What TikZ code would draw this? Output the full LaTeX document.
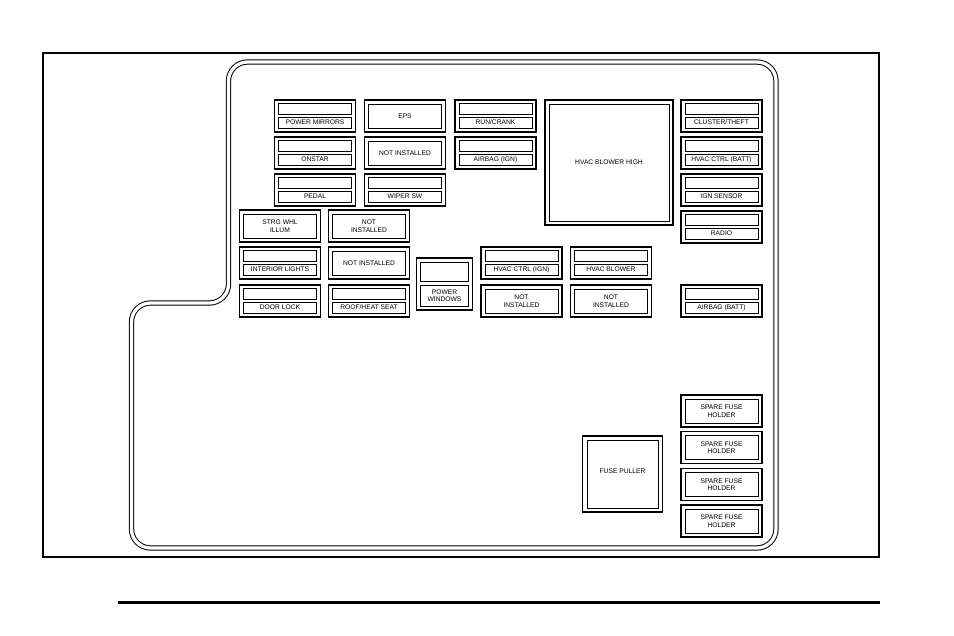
\documentclass[tikz,border=0pt]{standalone}
\usepackage{fontspec}
\setmainfont{Liberation Sans}

\tikzset{
  fusecase/.style={draw, line width=1.2pt, minimum width=81pt, minimum height=32pt, inner sep=0pt},
  fuseslot/.style={draw, line width=0.9pt, minimum width=73pt, minimum height=11pt, inner sep=0pt},
  fusepanel/.style={draw, line width=0.9pt, minimum width=73pt, minimum height=24pt, inner sep=0pt, align=center},
  fusetext/.style={font=\fontsize{6.7}{7.6}\selectfont, align=center}
}

\begin{document}
\begin{tikzpicture}[x=1pt, y=-1pt]

        \useasboundingbox (0,0) rectangle (954,636);

        % frame and rule
        \draw[line width=1.4pt] (43,53) rectangle (879,557);
        \draw[line width=3pt] (118,602.5) -- (880,602.5);

        % housing
        \draw[line width=1pt, double, double distance=3.3pt, rounded corners=19pt]
          (228.5,200) -- (228.5,62) -- (776,62) -- (776,548) -- (131.5,548) -- (131.5,303) -- (228.5,303) -- cycle;

        % first column
        \node[fusecase] (mirrors) at (315,116) {};
        \node[fuseslot] (mirrorstop) at (315,109) {};
        \node[fuseslot, fusetext] (mirrorslabel) at (315,122.5) {POWER MIRRORS};

        \node[fusecase] (onstar) at (315,153) {};
        \node[fuseslot] (onstartop) at (315,146) {};
        \node[fuseslot, fusetext] (onstarlabel) at (315,159.5) {ONSTAR};

        \node[fusecase] (pedal) at (315,190) {};
        \node[fuseslot] (pedaltop) at (315,183) {};
        \node[fuseslot, fusetext] (pedallabel) at (315,196.5) {PEDAL};

        % second column
        \node[fusecase] (eps) at (405,116) {};
        \node[fusepanel, fusetext] (epslabel) at (405,116) {EPS};

        \node[fusecase] (blanka) at (405,153) {};
        \node[fusepanel, fusetext] (blankalabel) at (405,153) {NOT INSTALLED};

        \node[fusecase] (wiper) at (405,190) {};
        \node[fuseslot] (wipertop) at (405,183) {};
        \node[fuseslot, fusetext] (wiperlabel) at (405,196.5) {WIPER SW};

        % third column
        \node[fusecase] (run) at (495.5,116) {};
        \node[fuseslot] (runtop) at (495.5,109) {};
        \node[fuseslot, fusetext] (runlabel) at (495.5,122.5) {RUN/CRANK};

        \node[fusecase] (airbagign) at (495.5,153) {};
        \node[fuseslot] (airbagigntop) at (495.5,146) {};
        \node[fuseslot, fusetext] (airbagignlabel) at (495.5,159.5) {AIRBAG (IGN)};

        % blower relay
        \node[fusecase, minimum width=128pt, minimum height=125pt] (blowerhigh) at (609,162.5) {};
        \node[fusepanel, fusetext, minimum width=120pt, minimum height=117pt] (blowerhighlabel) at (609,162.5) {HVAC BLOWER HIGH};

        % right column
        \node[fusecase] (cluster) at (721.5,116) {};
        \node[fuseslot] (clustertop) at (721.5,109) {};
        \node[fuseslot, fusetext] (clusterlabel) at (721.5,122.5) {CLUSTER/THEFT};

        \node[fusecase] (hvacbatt) at (721.5,153) {};
        \node[fuseslot] (hvacbatttop) at (721.5,146) {};
        \node[fuseslot, fusetext] (hvacbattlabel) at (721.5,159.5) {HVAC CTRL (BATT)};

        \node[fusecase] (ign) at (721.5,190) {};
        \node[fuseslot] (igntop) at (721.5,183) {};
        \node[fuseslot, fusetext] (ignlabel) at (721.5,196.5) {IGN SENSOR};

        \node[fusecase] (radio) at (721.5,227) {};
        \node[fuseslot] (radiotop) at (721.5,220) {};
        \node[fuseslot, fusetext] (radiolabel) at (721.5,233.5) {RADIO};

        \node[fusecase] (airbagbatt) at (721.5,301) {};
        \node[fuseslot] (airbagbatttop) at (721.5,294) {};
        \node[fuseslot, fusetext] (airbagbattlabel) at (721.5,307.5) {AIRBAG (BATT)};

        % lower left block
        \node[fusecase] (strg) at (280,226) {};
        \node[fusepanel, fusetext] (strglabel) at (280,226) {STRG WHL\\ILLUM};

        \node[fusecase] (interior) at (280,263) {};
        \node[fuseslot] (interiortop) at (280,256) {};
        \node[fuseslot, fusetext] (interiorlabel) at (280,269.5) {INTERIOR LIGHTS};

        \node[fusecase] (door) at (280,301) {};
        \node[fuseslot] (doortop) at (280,294) {};
        \node[fuseslot, fusetext] (doorlabel) at (280,307.5) {DOOR LOCK};

        \node[fusecase] (blankb) at (369,226) {};
        \node[fusepanel, fusetext] (blankblabel) at (369,226) {NOT\\INSTALLED};

        \node[fusecase] (blankc) at (369,263) {};
        \node[fusepanel, fusetext] (blankclabel) at (369,263) {NOT INSTALLED};

        \node[fusecase] (roof) at (369,301) {};
        \node[fuseslot] (rooftop) at (369,294) {};
        \node[fuseslot, fusetext] (rooflabel) at (369,307.5) {ROOF/HEAT SEAT};

        % power windows
        \node[fusecase, minimum width=56pt, minimum height=52pt] (windows) at (444.5,284) {};
        \node[fuseslot, minimum width=48pt, minimum height=19pt] (windowstop) at (444.5,272) {};
        \node[fuseslot, fusetext, minimum width=48pt, minimum height=21pt] (windowslabel) at (444.5,295.5) {POWER\\WINDOWS};

        % middle block
        \node[fusecase] (hvacign) at (521.5,263) {};
        \node[fuseslot] (hvacigntop) at (521.5,256) {};
        \node[fuseslot, fusetext] (hvacignlabel) at (521.5,269.5) {HVAC CTRL (IGN)};

        \node[fusecase] (blankd) at (521.5,301) {};
        \node[fusepanel, fusetext] (blankdlabel) at (521.5,301) {NOT\\INSTALLED};

        \node[fusecase] (blower) at (611,263) {};
        \node[fuseslot] (blowertop) at (611,256) {};
        \node[fuseslot, fusetext] (blowerlabel) at (611,269.5) {HVAC BLOWER};

        \node[fusecase] (blanke) at (611,301) {};
        \node[fusepanel, fusetext] (blankelabel) at (611,301) {NOT\\INSTALLED};

        % fuse puller and spares
        \node[fusecase, minimum width=80pt, minimum height=76pt] (puller) at (622.5,474) {};
        \node[fusepanel, minimum width=71pt, minimum height=68pt] (pullerpanel) at (622.5,474) {};
        \node[fusetext] (pullerlabel) at (622.5,471.5) {FUSE PULLER};

        \node[fusecase] (sparea) at (721.5,411) {};
        \node[fusepanel, fusetext] (sparealabel) at (721.5,411) {SPARE FUSE\\HOLDER};

        \node[fusecase] (spareb) at (721.5,447.5) {};
        \node[fusepanel, fusetext] (spareblabel) at (721.5,447.5) {SPARE FUSE\\HOLDER};

        \node[fusecase] (sparec) at (721.5,484.5) {};
        \node[fusepanel, fusetext] (spareclabel) at (721.5,484.5) {SPARE FUSE\\HOLDER};

        \node[fusecase] (spared) at (721.5,521) {};
        \node[fusepanel, fusetext] (sparedlabel) at (721.5,521) {SPARE FUSE\\HOLDER};

      \end{tikzpicture}
\end{document}
